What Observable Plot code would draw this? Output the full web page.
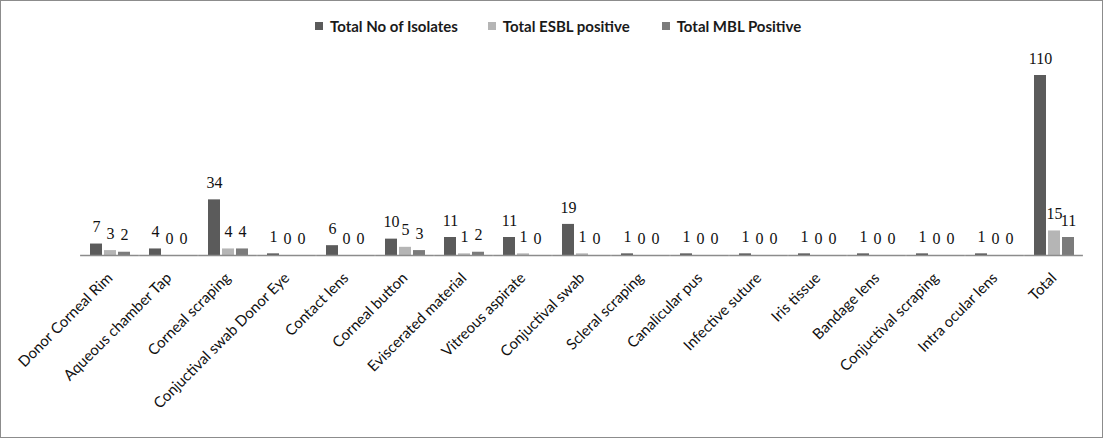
<!DOCTYPE html>
<html>
<head>
<meta charset="utf-8">
<script src="https://cdn.jsdelivr.net/npm/d3@7"></script>
<script src="https://cdn.jsdelivr.net/npm/@observablehq/plot@0.6"></script>
<style>
  html, body { margin: 0; padding: 0; background: #fff; }
  #frame { position: relative; width: 1101px; height: 436px; border: 1px solid #8c8c8c; overflow: hidden; background: #fff; }
  #legend { height: 45px; display: flex; align-items: center; font-family: Lato, "Open Sans", sans-serif; font-size: 15px; font-weight: 700; color: #1a1a1a; padding-left: 314px; box-sizing: border-box; padding-top: 4px; }
  .item { display: flex; align-items: center; }
  .sw { width: 8px; height: 8px; margin-right: 7px; }
  #chart svg { display: block; }
</style>
</head>
<body>
<div id="frame">
  <div id="legend"></div>
  <div id="chart"></div>
</div>
<script>
const categories = ["Donor Corneal Rim", "Aqueous chamber Tap", "Corneal scraping", "Conjuctival swab Donor Eye", "Contact lens", "Corneal button", "Eviscerated material", "Vitreous aspirate", "Conjuctival swab", "Scleral scraping", "Canalicular pus", "Infective suture", "Iris tissue", "Bandage lens", "Conjuctival scraping", "Intra ocular lens", "Total"];
const seriesNames = ["Total No of Isolates", "Total ESBL positive", "Total MBL Positive"];
const isolates = [7, 4, 34, 1, 6, 10, 11, 11, 19, 1, 1, 1, 1, 1, 1, 1, 110];
const esbl     = [3, 0, 4, 0, 0, 5, 1, 1, 1, 0, 0, 0, 0, 0, 0, 0, 15];
const mbl      = [2, 0, 4, 0, 0, 3, 2, 0, 0, 0, 0, 0, 0, 0, 0, 0, 11];
const colors = ["#5b5b5b", "#b5b5b5", "#7b7b7b"];

const seriesValues = [isolates, esbl, mbl];
const data = [];
categories.forEach((c, i) => {
  seriesNames.forEach((s, j) => data.push({cat: c, series: s, value: seriesValues[j][i]}));
});

// legend
const legend = document.getElementById("legend");
const legendGaps = [30, 32, 0];
seriesNames.forEach((s, j) => {
  const it = document.createElement("div");
  it.className = "item";
  it.style.marginRight = legendGaps[j] + "px";
  it.innerHTML = `<span class="sw" style="background:${colors[j]}"></span><span>${s}</span>`;
  legend.appendChild(it);
});

const chart = Plot.plot({
  width: 1101,
  height: 390,
  marginLeft: 78,
  marginRight: 18,
  marginTop: 29,
  marginBottom: 181,
  style: {fontFamily: "Lato, 'Open Sans', sans-serif", background: "white", overflow: "visible", color: "#111"},
  fx: {domain: categories, paddingInner: 0.3, paddingOuter: 0.15, axis: "bottom", label: null, tickRotate: -45, tickSize: 0, tickPadding: 20, fontSize: 15, tickFormat: d => d},
  x: {domain: seriesNames, paddingInner: 0.15, paddingOuter: 0, axis: null},
  y: {domain: [0, 110], axis: null},
  color: {domain: seriesNames, range: colors},
  marks: [
    Plot.barY(data, {fx: "cat", x: "series", y: "value", fill: "series"}),
    Plot.ruleY([0], {stroke: "#8c8c8c", strokeWidth: 1.5, insetLeft: -8.9, insetRight: -8.9}),
    Plot.text(data, {fx: "cat", x: "series", y: "value", text: d => String(d.value), dy: -17, fontFamily: "'Liberation Serif', 'DejaVu Serif', serif", fontSize: 16, fill: "#111"})
  ]
});
chart.querySelectorAll("g[aria-label='fx-axis tick label']").forEach(g => g.setAttribute("font-size", "15"));
document.getElementById("chart").appendChild(chart);
</script>
</body>
</html>
